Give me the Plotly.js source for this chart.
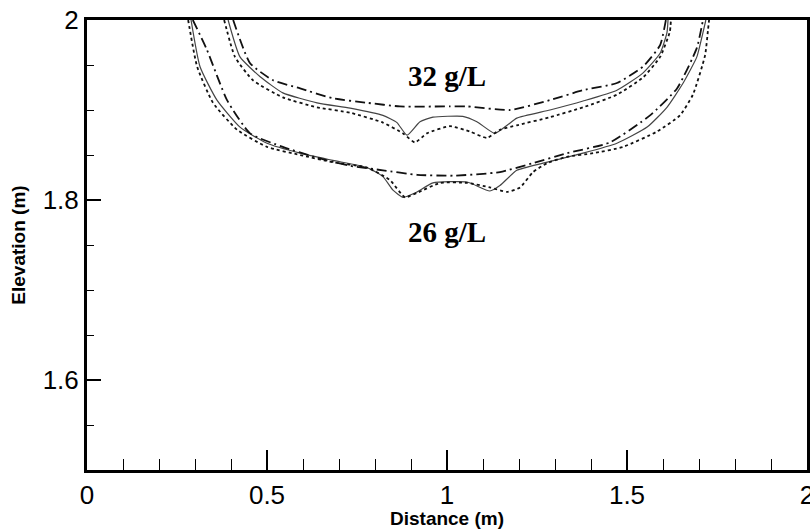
<!DOCTYPE html>
<html>
<head>
<meta charset="utf-8">
<script src="https://cdn.plot.ly/plotly-3.0.1.min.js"></script>
<style>html,body{margin:0;padding:0;background:#fff;}#chart{width:810px;height:529px;}</style>
</head>
<body>
<div id="chart"></div>
<script>
// 32 g/L contours
const up_solid_x = [0.392,0.425,0.481,0.544,0.639,0.731,0.822,0.861,0.889,0.925,0.961,1.044,1.083,1.133,1.167,1.194,1.286,1.378,1.472,1.544,1.592,1.611,1.614];
const up_solid_y = [2.0,1.959,1.937,1.919,1.908,1.902,1.894,1.886,1.872,1.887,1.892,1.893,1.887,1.874,1.883,1.891,1.900,1.910,1.922,1.941,1.963,1.986,2.0];
const up_dot_x = [0.381,0.411,0.461,0.544,0.639,0.731,0.822,0.878,0.911,0.944,1.008,1.064,1.111,1.147,1.194,1.286,1.378,1.472,1.544,1.592,1.619,1.622];
const up_dot_y = [2.0,1.959,1.933,1.914,1.903,1.897,1.886,1.874,1.864,1.874,1.882,1.876,1.869,1.878,1.883,1.892,1.903,1.917,1.936,1.959,1.987,2.0];
const up_dd_x = [0.406,0.453,0.517,0.592,0.683,0.778,0.869,1.008,1.056,1.175,1.286,1.378,1.472,1.544,1.592,1.608];
const up_dd_y = [2.0,1.952,1.933,1.924,1.913,1.908,1.904,1.904,1.904,1.900,1.911,1.922,1.930,1.948,1.972,2.0];
// 26 g/L contours
const lo_solid_x = [0.289,0.314,0.361,0.425,0.500,0.592,0.683,0.778,0.822,0.850,0.878,0.917,0.961,1.056,1.119,1.147,1.194,1.267,1.378,1.472,1.556,1.611,1.656,1.694,1.711,1.719];
const lo_solid_y = [2.0,1.948,1.911,1.881,1.863,1.852,1.844,1.836,1.826,1.811,1.803,1.809,1.819,1.820,1.810,1.816,1.833,1.841,1.852,1.863,1.881,1.903,1.930,1.959,1.986,2.0];
const lo_dot_x = [0.281,0.306,0.350,0.417,0.500,0.592,0.683,0.778,0.842,0.883,0.917,0.981,1.056,1.119,1.167,1.203,1.239,1.278,1.333,1.406,1.489,1.583,1.647,1.683,1.717,1.725,1.728];
const lo_dot_y = [2.0,1.948,1.908,1.878,1.859,1.850,1.842,1.836,1.822,1.803,1.808,1.819,1.819,1.814,1.809,1.814,1.831,1.841,1.848,1.852,1.859,1.876,1.894,1.917,1.961,1.989,2.0];
const lo_dd_x = [0.294,0.333,0.389,0.453,0.544,0.639,0.731,0.822,0.917,1.017,1.147,1.239,1.333,1.453,1.564,1.639,1.694,1.711];
const lo_dd_y = [2.0,1.967,1.911,1.874,1.859,1.847,1.838,1.833,1.828,1.827,1.831,1.841,1.852,1.864,1.894,1.924,1.969,2.0];

const labels = ["32 g/L", "26 g/L"];
const label_x = [1.0, 1.0];
const label_y = [1.938, 1.764];

const solidStyle = {color:'#444', width:1.2, dash:'solid', shape:'spline', smoothing:0.5};
const dotStyle = {color:'#111', width:1.8, dash:'3px,3px', shape:'spline', smoothing:0.5};
const ddStyle = {color:'#111', width:1.8, dash:'10px,4px,2px,4px', shape:'spline', smoothing:0.5};

function tr(x, y, line){ return {x:x, y:y, mode:'lines', line:line, hoverinfo:'skip', showlegend:false}; }

const data = [
  tr(up_solid_x, up_solid_y, solidStyle),
  tr(up_dot_x, up_dot_y, dotStyle),
  tr(up_dd_x, up_dd_y, ddStyle),
  tr(lo_solid_x, lo_solid_y, solidStyle),
  tr(lo_dot_x, lo_dot_y, dotStyle),
  tr(lo_dd_x, lo_dd_y, ddStyle)
];

const tickFont = {family:'Liberation Sans, Arial, sans-serif', size:26, color:'#000'};
const titleFont = {family:'Liberation Sans, Arial, sans-serif', size:19, color:'#000', weight:'bold'};

const layout = {
  width:810, height:529,
  margin:{l:87, r:3, t:20, b:59},
  paper_bgcolor:'#fff', plot_bgcolor:'#fff',
  showlegend:false,
  xaxis:{
    range:[0,2], dtick:0.5, tick0:0,
    ticks:'inside', ticklen:20, tickwidth:2, tickcolor:'#000',
    minor:{dtick:0.1, ticks:'inside', ticklen:11, tickwidth:1, tickcolor:'#000'},
    showline:true, linewidth:3, linecolor:'#000', mirror:true,
    showgrid:false, zeroline:false,
    tickfont:tickFont, ticklabeloverflow:'allow',
    title:{text:'<b>Distance (m)</b>', font:titleFont, standoff:2}
  },
  yaxis:{
    range:[1.5,2], dtick:0.2, tick0:0,
    ticks:'inside', ticklen:14, tickwidth:2, tickcolor:'#000',
    minor:{dtick:0.05, ticks:'inside', ticklen:7, tickwidth:1, tickcolor:'#000'},
    showline:true, linewidth:3, linecolor:'#000', mirror:true,
    showgrid:false, zeroline:false,
    tickfont:tickFont, ticklabeloverflow:'allow',
    title:{text:'<b>Elevation (m)</b>', font:titleFont, standoff:12}
  },
  annotations: labels.map((t,i)=>({
    x:label_x[i], y:label_y[i], xref:'x', yref:'y', text:'<b>'+t+'</b>', showarrow:false,
    font:{family:'Liberation Serif, Times New Roman, serif', size:29, color:'#000'}
  }))
};

Plotly.newPlot('chart', data, layout, {displayModeBar:false, staticPlot:true});
</script>
</body>
</html>
